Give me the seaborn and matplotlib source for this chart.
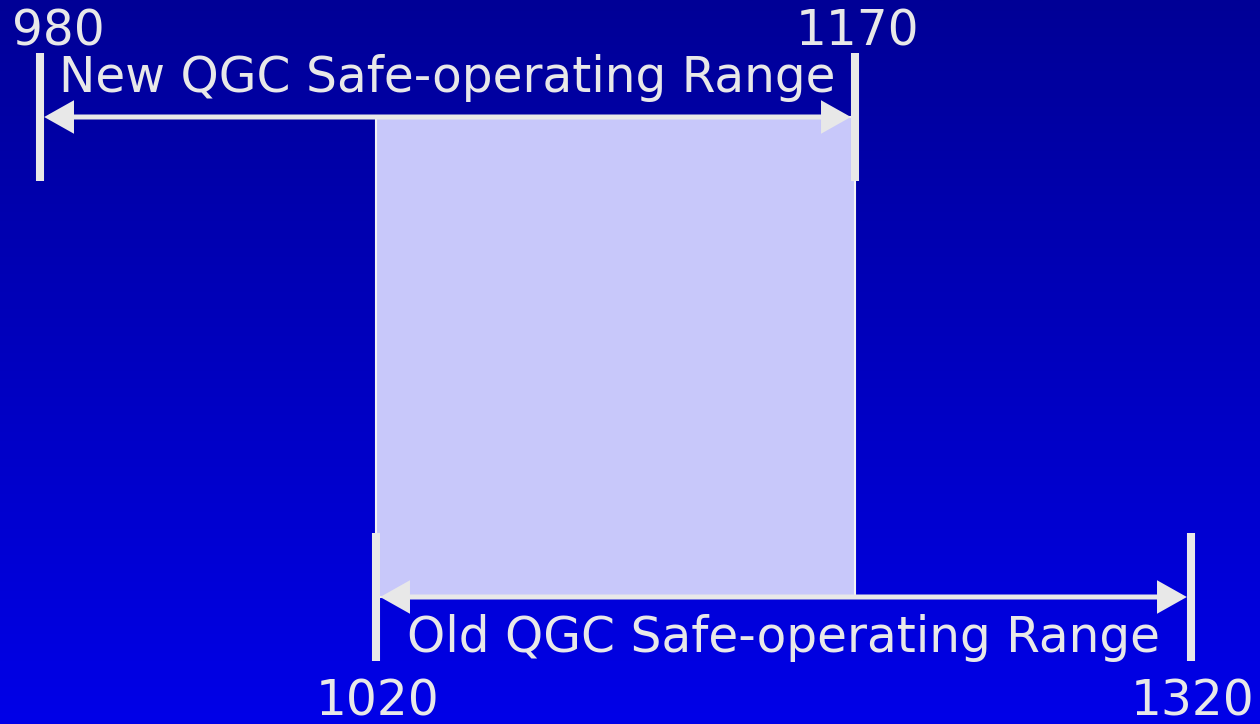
import numpy as np
import matplotlib
matplotlib.use("Agg")
import matplotlib.pyplot as plt
import seaborn as sns
from matplotlib.patches import FancyArrowPatch
from matplotlib.scale import FuncScale

# datos
new_range = [980, 1170]
old_range = [1020, 1320]
new_label = "New QGC Safe-operating Range"
old_label = "Old QGC Safe-operating Range"

sns.set_theme(style="white")
plt.rcParams['font.family'] = ['DejaVu Sans']

LIGHT = "#e8e8e8"
FILL = "#c8c8fa"

# escala esquemática (no proporcional): cada valor cae en una posición fija
knots = sorted(set(new_range + old_range))
knot_pos = [40, 376, 855, 1191]


def _extend(xs, ys):
    xs = np.asarray(xs, float)
    ys = np.asarray(ys, float)
    s0 = (ys[1] - ys[0]) / (xs[1] - xs[0])
    s1 = (ys[-1] - ys[-2]) / (xs[-1] - xs[-2])
    xs2 = np.r_[xs[0] - 1000, xs, xs[-1] + 1000]
    ys2 = np.r_[ys[0] - 1000 * s0, ys, ys[-1] + 1000 * s1]
    return xs2, ys2


kx, ky = _extend(knots, knot_pos)


def fwd(x):
    return np.interp(x, kx, ky)


def inv(p):
    return np.interp(p, ky, kx)


fig = plt.figure(figsize=(12.6, 7.24), dpi=100)

# fondo degradado
bg = fig.add_axes([0, 0, 1, 1], zorder=0)
grad = np.linspace(0, 1, 256)[:, None]
top = np.array([0, 0, 0x96]) / 255
bot = np.array([0, 0, 0xE8]) / 255
img = top + (bot - top) * grad[:, :, None]
bg.imshow(img, aspect="auto", extent=[0, 1, 0, 1], origin="upper")
bg.set_axis_off()

ax = fig.add_axes([0, 0, 1, 1], zorder=1)
ax.patch.set_alpha(0)
ax.set_xscale(FuncScale(ax, (fwd, inv)))
ax.set_xlim(inv(0), inv(1260))
ax.set_ylim(724, 0)
ax.set_axis_off()

# zona de solape
ax.fill_between([old_range[0], new_range[1]], 117, 597, color=FILL,
                edgecolor="#f4f4f4", linewidth=1.5, zorder=1)


def bracket(rng, y_arrow, y0, y1, label, y_label, y_nums):
    ax.vlines(rng, y0, y1, color=LIGHT, linewidth=5.8, zorder=3)
    arr = FancyArrowPatch((rng[0], y_arrow), (rng[1], y_arrow),
                          arrowstyle="<|-|>,head_length=16,head_width=9",
                          color=LIGHT, linewidth=3.6, shrinkA=3, shrinkB=3,
                          joinstyle="miter", capstyle="butt", zorder=2)
    ax.add_patch(arr)
    mid = inv((fwd(rng[0]) + fwd(rng[1])) / 2)
    ax.text(mid, y_label, label, color=LIGHT, fontsize=35, ha="center",
            va="center", zorder=4)
    for v in rng:
        off = 18 if fwd(v) < 60 else 2
        ax.annotate(str(v), (v, y_nums), xytext=(off * 0.72, 0),
                    textcoords="offset points", color=LIGHT, fontsize=35,
                    ha="center", va="center", zorder=4)


bracket(new_range, 117, 53, 181, new_label, 78, 31)
bracket(old_range, 597, 533, 661, old_label, 638, 702)

fig.savefig("out.png", dpi=100)
plt.close(fig)
